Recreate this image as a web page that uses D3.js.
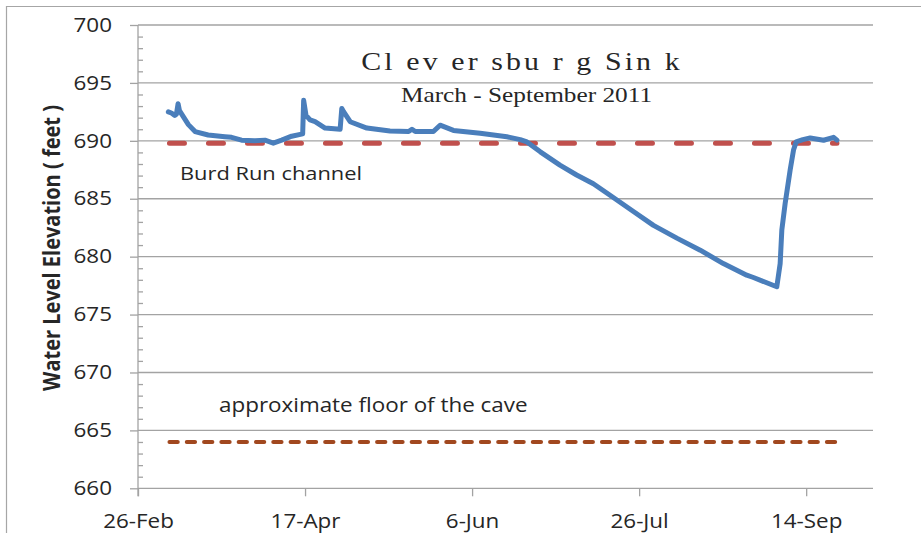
<!DOCTYPE html>
<html>
<head>
<meta charset="utf-8">
<script src="https://cdn.jsdelivr.net/npm/d3@7/dist/d3.min.js"></script>
<style>
  html, body { margin: 0; padding: 0; background: #fff; }
  svg { display: block; }
</style>
</head>
<body>
<svg id="chart" width="921" height="533"></svg>
<script>
// ---------------- DATA ----------------
const dates = [
  "2011-03-07T02:00","2011-03-08T00:00","2011-03-09T00:00","2011-03-09T12:00","2011-03-10T00:00",
  "2011-03-10T10:00","2011-03-11T02:00","2011-03-13T02:00","2011-03-15T02:00","2011-03-19T00:00",
  "2011-03-24T00:00","2011-03-26T00:00","2011-03-29T00:00","2011-04-02T00:00","2011-04-05T00:00",
  "2011-04-07T12:00","2011-04-10T00:00","2011-04-13T00:00","2011-04-16T07:00","2011-04-16T14:00",
  "2011-04-17T07:00","2011-04-18T12:00","2011-04-20T00:00","2011-04-23T00:00","2011-04-27T12:00",
  "2011-04-28T00:00","2011-04-28T14:00","2011-04-30T12:00","2011-05-05T12:00","2011-05-12T10:00",
  "2011-05-18T00:00","2011-05-19T00:00","2011-05-20T00:00","2011-05-25T10:00","2011-05-27T10:00",
  "2011-05-31T10:00","2011-06-08T10:00","2011-06-16T10:00","2011-06-20T10:00","2011-06-22T10:00",
  "2011-06-26T10:00","2011-07-02T07:00","2011-07-07T07:00","2011-07-12T07:00","2011-07-17T07:00",
  "2011-07-24T07:00","2011-07-30T07:00","2011-08-06T07:00","2011-08-13T07:00","2011-08-20T05:00",
  "2011-08-27T05:00","2011-08-29T05:00","2011-09-05T05:00","2011-09-06T05:00","2011-09-06T17:00",
  "2011-09-07T17:00","2011-09-09T05:00","2011-09-10T05:00","2011-09-11T00:00","2011-09-13T00:00",
  "2011-09-15T05:00","2011-09-19T05:00","2011-09-22T05:00","2011-09-23T05:00"
];
const waterLevel = [
  692.5, 692.4, 692.2, 692.3, 693.2,
  692.6, 692.3, 691.4, 690.8, 690.5,
  690.35, 690.3, 690.06, 690.0, 690.06,
  689.8, 690.06, 690.4, 690.6, 693.5,
  692.2, 691.8, 691.65, 691.1, 691.0,
  692.8, 692.5, 691.65, 691.1, 690.85,
  690.8, 691.0, 690.8, 690.8, 691.35,
  690.9, 690.65, 690.35, 690.1, 689.9,
  689.05, 687.9, 687.05, 686.3, 685.3,
  683.9, 682.7, 681.6, 680.56, 679.4,
  678.4, 678.2, 677.4, 679.4, 682.3,
  684.6, 687.5, 689.2, 689.9, 690.1,
  690.25, 690.05, 690.3, 690.06
];
const refDates = ["2011-03-07T10:00", "2011-09-23T05:00"];
const burdRun = [689.8, 689.8];
const caveFloor = [664, 664];

const xDomain = ["2011-02-26T00:00", "2011-10-04T00:00"];
const xTickDates = ["2011-02-26T00:00","2011-04-17T00:00","2011-06-06T00:00","2011-07-26T00:00","2011-09-14T00:00"];
const yMajorTicks = [660, 665, 670, 675, 680, 685, 690, 695, 700];
const yMinorTicks = [661,662,663,664,666,667,668,669,671,672,673,674,676,677,678,679,681,682,683,684,686,687,688,689,691,692,693,694,696,697,698,699];

const titleText = "Cl ev er sbu r g Sin k";
const subtitleText = "March - September 2011";
const yTitle = "Water Level Elevation ( feet )";
const burdLabel = "Burd Run channel";
const floorLabel = "approximate floor of the cave";

// ---------------- CHART ----------------
(function () {
const parse = d3.timeParse("%Y-%m-%dT%H:%M");
const svg = d3.select("#chart");
const pLeft = 138, pRight = 873, pTop = 25, pBottom = 488.3;
const sx = 1.15; // horizontal stretch of the reference picture's lettering

const x = d3.scaleTime().domain(xDomain.map(parse)).range([pLeft, pRight]);
const y = d3.scaleLinear().domain([660, 700]).range([pBottom, pTop]);

const gridColor = "#a3a3a3";
const textColor = "#262626";
const sans = "'Open Sans', sans-serif";
const serif = "'Liberation Serif', 'Times New Roman', serif";

// outer frame
svg.append("path")
  .attr("d", "M6.5,540 L6.5,6.5 L930,6.5")
  .attr("fill", "none").attr("stroke", "#a6a6a6").attr("stroke-width", 1.2);

// gridlines
svg.append("g").selectAll("line").data(yMajorTicks.filter(v => v !== 660)).join("line")
  .attr("x1", pLeft).attr("x2", pRight)
  .attr("y1", d => y(d)).attr("y2", d => y(d))
  .attr("stroke", gridColor).attr("stroke-width", 1.3);

// y axis (major ticks + labels)
const yAxis = d3.axisLeft(y).tickValues(yMajorTicks).tickSize(8).tickPadding(18).tickFormat(d3.format("d"));
const gy = svg.append("g").attr("transform", `translate(${pLeft},0)`).call(yAxis);
gy.select(".domain").remove();
gy.selectAll(".tick line").attr("stroke", gridColor).attr("stroke-width", 1.3);
gy.selectAll(".tick text").attr("fill", textColor).style("font-family", sans).style("font-size", "19.5px")
  .attr("x", 0).attr("transform", `translate(-26,0) scale(${sx},1)`);

// minor ticks inside
const yMinor = d3.axisRight(y).tickValues(yMinorTicks).tickSize(5).tickFormat("");
const gym = svg.append("g").attr("transform", `translate(${pLeft},0)`).call(yMinor);
gym.select(".domain").remove();
gym.selectAll(".tick line").attr("stroke", gridColor).attr("stroke-width", 1.3);

// y axis vertical line
svg.append("line").attr("x1", pLeft).attr("x2", pLeft).attr("y1", pTop).attr("y2", pBottom + 8)
  .attr("stroke", gridColor).attr("stroke-width", 1.3);

// x axis
const xAxis = d3.axisBottom(x).tickValues(xTickDates.map(parse)).tickSize(8).tickFormat(d3.timeFormat("%-d-%b"));
const gx = svg.append("g").attr("transform", `translate(0,${pBottom})`).call(xAxis);
gx.select(".domain").attr("stroke", gridColor).attr("stroke-width", 1.3).attr("d", `M${pLeft},0H${pRight}`);
gx.selectAll(".tick line").attr("stroke", gridColor).attr("stroke-width", 1.3);
gx.selectAll(".tick text").attr("fill", textColor).style("font-family", sans).style("font-size", "19.5px")
  .attr("y", 0).attr("dy", null).attr("transform", `translate(0,39.5) scale(${sx},1)`);

// reference lines
const line = d3.line().x(d => x(d[0])).y(d => y(d[1]));
svg.append("path")
  .datum(refDates.map((d, i) => [parse(d), caveFloor[i]]))
  .attr("d", line).attr("fill", "none")
  .attr("stroke", "#a1481f").attr("stroke-width", 4)
  .attr("stroke-linecap", "round").attr("stroke-dasharray", "8.3 9");

svg.append("path")
  .datum(refDates.map((d, i) => [parse(d), burdRun[i]]))
  .attr("d", line).attr("fill", "none")
  .attr("stroke", "#c0504d").attr("stroke-width", 5)
  .attr("stroke-linecap", "round").attr("stroke-dasharray", "15 24");

// water level series
svg.append("path")
  .datum(dates.map((d, i) => [parse(d), waterLevel[i]]))
  .attr("d", line).attr("fill", "none")
  .attr("stroke", "#4a7ebb").attr("stroke-width", 5)
  .attr("stroke-linejoin", "round").attr("stroke-linecap", "round");

// titles
svg.append("text").attr("transform", `translate(522,70) scale(${sx},1)`).attr("text-anchor", "middle")
  .style("font-family", serif).style("font-size", "26px").style("letter-spacing", "2.7px")
  .attr("fill", textColor).text(titleText);
svg.append("text").attr("transform", `translate(526.5,102) scale(${sx},1)`).attr("text-anchor", "middle")
  .style("font-family", serif).style("font-size", "22px")
  .attr("fill", textColor).text(subtitleText);

// y title
svg.append("text").attr("transform", `translate(60,248) scale(${sx},1) rotate(-90)`).attr("text-anchor", "middle")
  .style("font-family", sans).style("font-size", "20px").style("font-weight", "bold")
  .attr("fill", textColor).text(yTitle);

// annotations
svg.append("text").attr("transform", `translate(180,180) scale(${sx},1)`)
  .style("font-family", sans).style("font-size", "19px")
  .attr("fill", textColor).text(burdLabel);
svg.append("text").attr("transform", `translate(219,412) scale(${sx},1)`)
  .style("font-family", sans).style("font-size", "19.5px")
  .attr("fill", textColor).text(floorLabel);
})();
</script>
</body>
</html>
